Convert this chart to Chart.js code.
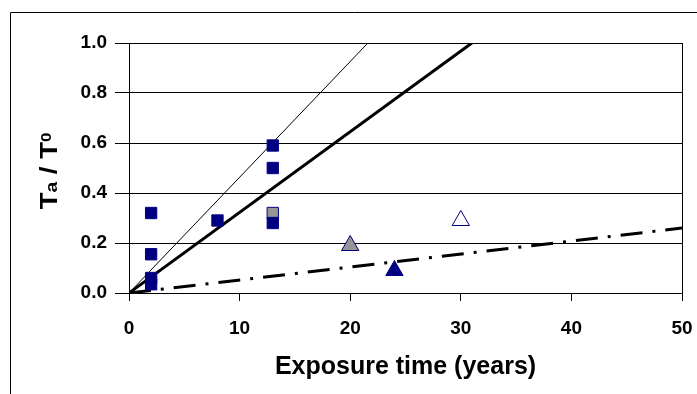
<!DOCTYPE html>
<html>
<head>
<meta charset="utf-8">
<script src="https://cdn.jsdelivr.net/npm/chart.js@4/dist/chart.umd.min.js"></script>
<style>
  html, body { margin: 0; padding: 0; background: #fff; }
  canvas { display: block; }
</style>
</head>
<body>
<canvas id="chart" width="697" height="394"></canvas>
<script>
// measured squares (navy)
const squareX = [2, 2, 2, 2, 8, 13, 13, 13];
const squareY = [0.32, 0.155, 0.06, 0.035, 0.29, 0.59, 0.50, 0.28];
// grey square
const greySquareX = [13];
const greySquareY = [0.32];
// triangles
const greyTriX = [20];
const greyTriY = [0.19];
const navyTriX = [24];
const navyTriY = [0.09];
const openTriX = [30];
const openTriY = [0.29];
// fitted lines
const thinLineX = [0, 21.6];
const thinLineY = [0, 1.0];
const thickLineX = [0, 31];
const thickLineY = [0, 1.0];
const dashLineX = [0, 50];
const dashLineY = [0, 0.26];

const xTicks = [0, 10, 20, 30, 40, 50];
const yTicks = [0, 0.2, 0.4, 0.6, 0.8, 1.0];

const NAVY = '#000080';
const GREY = '#969696';
const FONT = 'Arial, "Liberation Sans", sans-serif';

function pts(xs, ys) {
  return xs.map((x, i) => ({ x, y: ys[i] }));
}

const framePlugin = {
  id: 'frame',
  beforeDraw(chart) {
    const ctx = chart.ctx;
    ctx.save();
    ctx.fillStyle = '#fff';
    ctx.fillRect(0, 0, chart.width, chart.height);
    ctx.strokeStyle = '#000';
    ctx.lineWidth = 1;
    ctx.beginPath();
    ctx.moveTo(10.5, chart.height + 2);
    ctx.lineTo(10.5, 12.5);
    ctx.lineTo(chart.width + 2, 12.5);
    ctx.stroke();
    ctx.restore();
  },
  afterDraw(chart) {
    const ctx = chart.ctx;
    const a = chart.chartArea;
    ctx.save();
    // right edge of plot area
    ctx.strokeStyle = '#000';
    ctx.lineWidth = 1;
    ctx.beginPath();
    ctx.moveTo(Math.round(a.right) + 0.5, a.top);
    ctx.lineTo(Math.round(a.right) + 0.5, a.bottom);
    ctx.stroke();

    // y title: T_a / T^0 rotated
    const parts = [
      { t: 'T', size: 23, dy: 0 },
      { t: 'a', size: 16, dy: 0 },
      { t: ' / ', size: 23, dy: 0 },
      { t: 'T', size: 23, dy: 0 },
      { t: '0', size: 14, dy: -6 },
    ];
    const sx = 1.2;
    let total = 0;
    parts.forEach((p) => {
      ctx.font = 'bold ' + p.size + 'px ' + FONT;
      p.w = ctx.measureText(p.t).width;
      total += p.w;
    });
    ctx.translate(57, (a.top + a.bottom) / 2 + 3);
    ctx.rotate(-Math.PI / 2);
    ctx.scale(sx, 1);
    ctx.fillStyle = '#000';
    ctx.textBaseline = 'alphabetic';
    let u = -total / 2;
    parts.forEach((p) => {
      ctx.font = 'bold ' + p.size + 'px ' + FONT;
      ctx.fillText(p.t, u, p.dy);
      u += p.w;
    });
    ctx.restore();
  },
};

new Chart(document.getElementById('chart'), {
  type: 'scatter',
  data: {
    datasets: [
      {
        label: 'squares',
        data: pts(squareX, squareY),
        pointStyle: 'rect',
        pointRadius: 8,
        backgroundColor: NAVY,
        borderColor: NAVY,
        borderWidth: 1,
        order: 0,
      },
      {
        label: 'grey square',
        data: pts(greySquareX, greySquareY),
        pointStyle: 'rect',
        pointRadius: 8,
        backgroundColor: GREY,
        borderColor: NAVY,
        borderWidth: 1,
        order: 1,
      },
      {
        label: 'grey triangle',
        data: pts(greyTriX, greyTriY),
        pointStyle: 'triangle',
        pointRadius: 10,
        backgroundColor: GREY,
        borderColor: NAVY,
        borderWidth: 1,
        order: 1,
      },
      {
        label: 'navy triangle',
        data: pts(navyTriX, navyTriY),
        pointStyle: 'triangle',
        pointRadius: 10,
        backgroundColor: NAVY,
        borderColor: NAVY,
        borderWidth: 1,
        order: 1,
      },
      {
        label: 'open triangle',
        data: pts(openTriX, openTriY),
        pointStyle: 'triangle',
        pointRadius: 10,
        backgroundColor: '#fff',
        borderColor: NAVY,
        borderWidth: 1,
        order: 1,
      },
      {
        label: 'thin',
        data: pts(thinLineX, thinLineY),
        showLine: true,
        pointRadius: 0,
        borderColor: '#000',
        borderWidth: 1,
        order: 2,
      },
      {
        label: 'thick',
        data: pts(thickLineX, thickLineY),
        showLine: true,
        pointRadius: 0,
        borderColor: '#000',
        borderWidth: 3,
        order: 2,
      },
      {
        label: 'dash-dot',
        data: pts(dashLineX, dashLineY),
        showLine: true,
        pointRadius: 0,
        borderColor: '#000',
        borderWidth: 3,
        borderDash: [22, 10, 3, 10],
        order: 2,
      },
    ],
  },
  options: {
    responsive: false,
    animation: false,
    layout: { padding: { top: 43, right: 15, left: 0, bottom: 0 } },
    plugins: {
      legend: { display: false },
      tooltip: { enabled: false },
    },
    scales: {
      x: {
        type: 'linear',
        min: 0,
        max: 50,
        afterFit: (s) => { s.height = 101; s.paddingRight = 0; s.paddingLeft = 0; },
        afterBuildTicks: (s) => { s.ticks = xTicks.map((v) => ({ value: v })); },
        grid: { drawOnChartArea: false, drawTicks: true, tickLength: 8, color: '#000' },
        border: { display: true, color: '#000', width: 1 },
        ticks: {
          padding: 16,
          color: '#000',
          font: { family: FONT, size: 19, weight: 'bold' },
        },
        title: {
          display: true,
          text: 'Exposure time (years)',
          color: '#000',
          font: { family: FONT, size: 25, weight: 'bold' },
          padding: { top: 0, bottom: 12 },
        },
      },
      y: {
        type: 'linear',
        min: 0,
        max: 1,
        afterFit: (s) => { s.width = 129; },
        afterBuildTicks: (s) => { s.ticks = yTicks.map((v) => ({ value: v })); },
        grid: { drawOnChartArea: true, drawTicks: true, tickLength: 14, color: '#000' },
        border: { display: true, color: '#000', width: 1 },
        ticks: {
          padding: 8,
          color: '#000',
          font: { family: FONT, size: 19, weight: 'bold' },
          callback: (v) => Number(v).toFixed(1),
        },
      },
    },
  },
  plugins: [framePlugin],
});
</script>
</body>
</html>
